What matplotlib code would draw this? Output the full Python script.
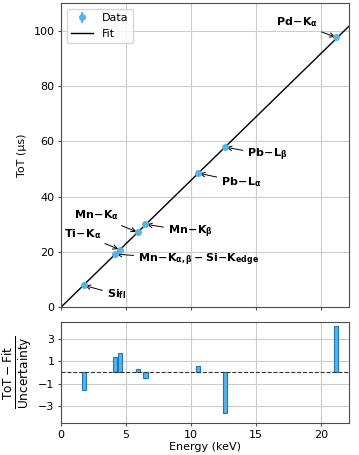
import numpy as np
import matplotlib
matplotlib.use('Agg')
import matplotlib.pyplot as plt

# line energies (keV) and measured ToT (us)
LABELS = [r'$\mathbf{Si_{fl}}$',
          r'$\mathbf{Mn\!-\!K_{\alpha,\beta}-Si\!-\!K_{edge}}$',
          r'$\mathbf{Ti\!-\!K_{\alpha}}$',
          r'$\mathbf{Mn\!-\!K_{\alpha}}$',
          r'$\mathbf{Mn\!-\!K_{\beta}}$',
          r'$\mathbf{Pb\!-\!L_{\alpha}}$',
          r'$\mathbf{Pb\!-\!L_{\beta}}$',
          r'$\mathbf{Pd\!-\!K_{\alpha}}$']
energy = [1.74, 4.15, 4.51, 5.90, 6.49, 10.55, 12.61, 21.18]
tot = [7.9, 19.2, 20.8, 27.1, 30.0, 48.5, 57.9, 97.6]
tot_err = [0.3, 0.3, 0.3, 0.3, 0.3, 0.3, 0.3, 0.3]
residual = [-1.55, 1.36, 1.74, 0.30, -0.53, 0.59, -3.60, 4.12]

# label positions (data coords)
text_xy = [(3.5, 4.7), (5.9, 17.0), (0.2, 26.4), (1.0, 33.2),
           (8.2, 27.4), (12.3, 45.2), (14.3, 55.2), (16.5, 103.0)]

FIT_SLOPE = 4.59
FIT_INTERCEPT = 0.0

BLUE = '#56B4E9'
EDGE = '#1f78b4'
FS = 8

plt.rcParams['font.size'] = FS
plt.rcParams['axes.edgecolor'] = '0.3'
for a in ('xtick', 'ytick'):
    plt.rcParams[f'{a}.major.size'] = 2.5
    plt.rcParams[f'{a}.major.pad'] = 2.2
    plt.rcParams[f'{a}.color'] = '0.3'
    plt.rcParams[f'{a}.labelcolor'] = 'black'

fig = plt.figure(figsize=(3.59, 4.55), dpi=100)
ax = fig.add_axes([0.170, 0.325, 0.802, 0.668])
axr = fig.add_axes([0.170, 0.0703, 0.802, 0.2227], sharex=ax)

xlim = (0, 22.15)
ax.errorbar(energy, tot, yerr=tot_err, fmt='o', color=BLUE, ms=4,
            label='Data', zorder=3)
xs = np.array(xlim)
ax.plot(xs, FIT_INTERCEPT + FIT_SLOPE * xs, color='black', lw=1,
        label='Fit', zorder=2)

for lab, x, y, (tx, ty) in zip(LABELS, energy, tot, text_xy):
    ax.annotate(lab, xy=(x, y), xytext=(tx, ty), ha='left', va='center',
                fontsize=FS,
                arrowprops=dict(arrowstyle='->', color='black', lw=0.7,
                                shrinkA=1, shrinkB=1))

ax.set_xlim(*xlim)
ax.set_ylim(0, 110)
ax.set_yticks([0, 20, 40, 60, 80, 100])
ax.set_xticks([0, 5, 10, 15, 20])
ax.set_ylabel('ToT (µs)', labelpad=5)
ax.grid(True, color='0.8', lw=0.8)
ax.set_axisbelow(True)
ax.tick_params(labelbottom=False)
handles, labels = ax.get_legend_handles_labels()
order = [labels.index('Data'), labels.index('Fit')]
ax.legend([handles[i] for i in order], [labels[i] for i in order],
          loc='upper left', fontsize=FS)

axr.bar(energy, residual, width=0.33, color=BLUE, edgecolor=EDGE, lw=0.8,
        zorder=3)
axr.axhline(0, color='0.2', ls='--', lw=0.8, zorder=4)
axr.set_ylim(-4.5, 4.5)
axr.set_yticks([-3, -1, 1, 3])
axr.set_xlabel('Energy (keV)', labelpad=2)
axr.set_ylabel(r'$\frac{\mathrm{ToT - Fit}}{\mathrm{Uncertainty}}$',
               fontsize=12.5, labelpad=3)
axr.grid(True, color='0.8', lw=0.8)
axr.set_axisbelow(True)

fig.savefig('out.png', dpi=100)
